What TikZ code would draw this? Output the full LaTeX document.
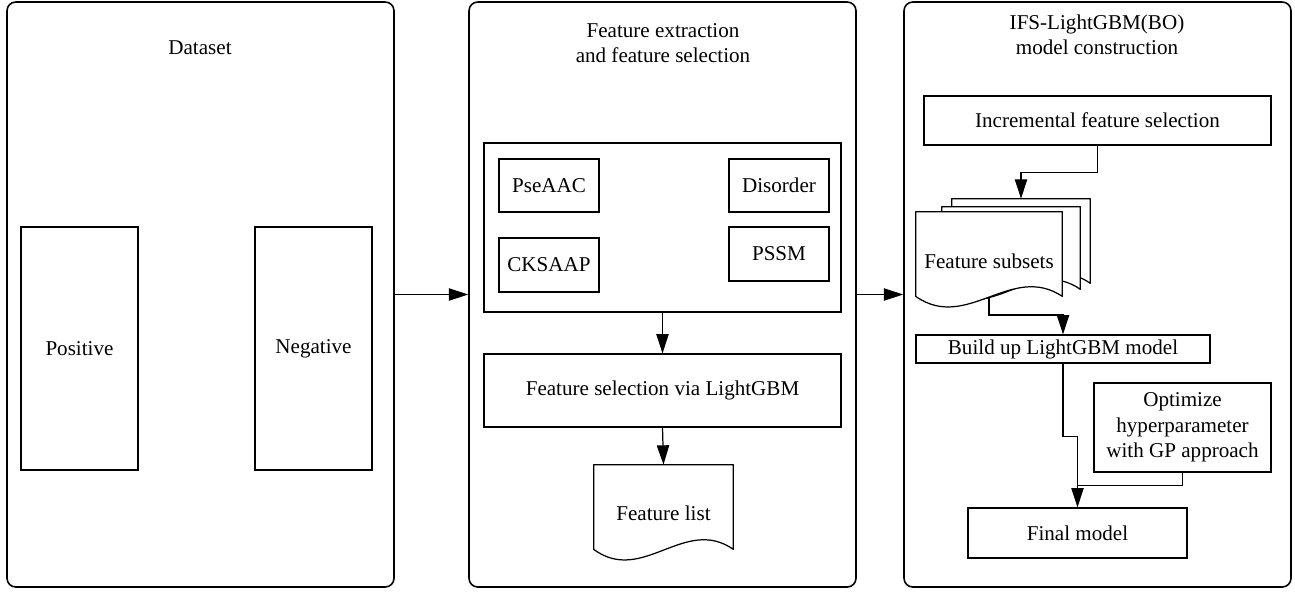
\documentclass[tikz,border=0pt]{standalone}
\usepackage{fontspec}
\setmainfont{Liberation Serif}
\usetikzlibrary{arrows.meta, calc, fit, positioning}
\tikzset{
  lbl/.style={align=center, font=\fontsize{12}{14.5}\selectfont},
  frame/.style={draw, line width=0.9pt, rounded corners=5pt, inner sep=0pt},
  box/.style={draw, line width=0.7pt, inner sep=0pt, label={[lbl]center:#1}},
  box/.default={},
  sheet/.style={draw, fill=white, line width=0.7pt, line join=round},
  link/.style={line width=0.7pt},
  flow/.style={link, -{Triangle[length=11pt,width=7pt]}}
}
% document outline round a (text-less) fit node, wavy bottom edge
\newcommand{\docsheet}[1]{%
  \draw[sheet] (#1.south west) -- (#1.north west) -- (#1.north east) -- (#1.south east)
    .. controls ($(#1.south west)!0.65!(#1.south east)+(0,-34)$) and ($(#1.south west)!0.35!(#1.south east)+(0,36)$) ..
    coordinate[pos=0.5] (#1-mid) (#1.south west) -- cycle;}

\begin{document}
\begin{tikzpicture}[x=0.02cm, y=-0.02cm]
  \useasboundingbox (0,0) rectangle (1295,593);
  % panels
  \node[frame, fit={(7,2) (394,587)}] (pdata) {};
  \node[frame, fit={(469,2) (856,587)}] (pfeat) {};
  \node[frame, fit={(904,2) (1291,587)}] (pmodel) {};
  \node[lbl] (tdata) at (200,48) {Dataset};
  \node[lbl] (tfeat) at (663,43) {Feature extraction\\and feature selection};
  \node[lbl] (tmodel) at (1097,35) {IFS-LightGBM(BO)\\model construction};

  % dataset
  \node[box=Positive, fit={(21,227) (138,470)}] (pos) {};
  \node[box=Negative, fit={(255,227) (372,470)}] (neg) {};

  % feature extraction
  \node[box, fit={(484,143) (841,312)}] (encode) {};
  \node[box=PseAAC, fit={(499,159) (599,212)}] (pse) {};
  \node[box=CKSAAP, fit={(499,238) (599,292)}] (cks) {};
  \node[box=Disorder, fit={(729,159) (829,212)}] (dis) {};
  \node[box=PSSM, fit={(729,227) (829,281)}] (pssm) {};
  \node[box={Feature selection via LightGBM}, fit={(484,354) (841,427)}] (fsel) {};
  \node[inner sep=0pt, fit={(594,465) (733,549)}] (flist) {};
  \docsheet{flist}
  \node[lbl] (flisttxt) at ($(flist.center)+(0,6)$) {Feature list};

  % model construction
  \node[box={Incremental feature selection}, fit={(924,96) (1271,145)}] (ifs) {};
  \node[inner sep=0pt, fit={(952,199) (1090,283)}] (sheetb) {};
  \node[inner sep=0pt, fit={(942,207) (1080,289)}] (sheetm) {};
  \node[inner sep=0pt, fit={(916,212) (1062,296)}] (subsets) {};
  \foreach \s in {sheetb,sheetm,subsets} {\docsheet{\s}}
  \node[lbl] (subtxt) at ($(subsets.center)+(0,7)$) {Feature subsets};
  \node[box={Build up LightGBM model}, fit={(916,335) (1210,363)}] (build) {};
  \node[box={Optimize\\hyperparameter\\with GP approach}, fit={(1094,383) (1271,472)}] (opt) {};
  \node[box={Final model}, fit={(968,508) (1187,558)}] (final) {};
  \coordinate (join) at ($(final.north)+(0,-22)$);

  % connectors
  \draw[flow] (pdata.east) -- (pfeat.west);
  \draw[flow] (pfeat.east) -- (pmodel.west);
  \draw[flow] (encode.south) -- (fsel.north);
  \draw[flow] (fsel.south) -- (flist.north);
  \draw[flow] (ifs.south) -- ++(0,27) -| (sheetb.north);
  \draw[flow] (subsets-mid) -- ++(0,18) -| (build.north);
  \draw[flow] (build.south) -- ++(0,73) -| (final.north);
  \draw[link] (opt.south) |- (join);
\end{tikzpicture}
\end{document}
